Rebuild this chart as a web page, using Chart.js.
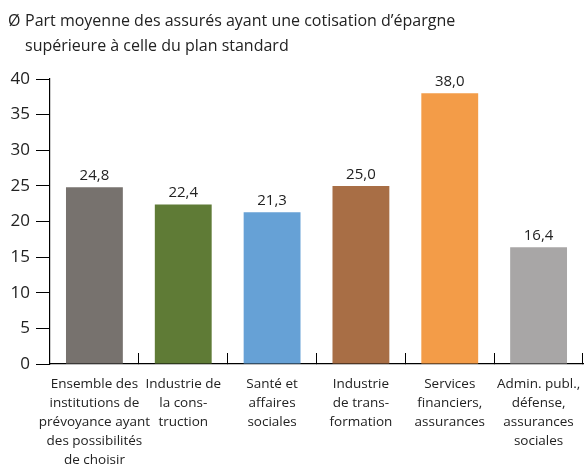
<!DOCTYPE html>
<html>
<head>
<meta charset="utf-8">
<script src="https://cdn.jsdelivr.net/npm/chart.js@4"></script>
<style>
  html, body { margin: 0; padding: 0; background: #fff; }
  #wrap { position: relative; width: 587px; height: 471px; }
  #title {
    position: absolute; left: 8px; top: 8px;
    font-family: "Open Sans", sans-serif; font-size: 16px; line-height: 25px; color: #222;
  }
  #title .sym { display: inline-block; width: 17px; }
  #title .l2 { padding-left: 17px; }
</style>
</head>
<body>
<div id="wrap">
  <div id="title"><span class="sym">Ø</span>Part moyenne des assurés ayant une cotisation d’épargne<br><span class="l2">supérieure à celle du plan standard</span></div>
  <canvas id="myChart" width="587" height="471"></canvas>
</div>
<script>
const categories = [
  ["Ensemble des", "institutions de", "prévoyance ayant", "des possibilités", "de choisir"],
  ["Industrie de", "la cons-", "truction"],
  ["Santé et", "affaires", "sociales"],
  ["Industrie", "de trans-", "formation"],
  ["Services", "financiers,", "assurances"],
  ["Admin. publ.,", "défense,", "assurances", "sociales"]
];
const values = [24.8, 22.4, 21.3, 25.0, 38.0, 16.4];
const barColors = ["#77726e", "#5f7b36", "#66a1d6", "#a86e45", "#f39c48", "#a8a6a6"];
const yTicks = [0, 5, 10, 15, 20, 25, 30, 35, 40];

const fmt = v => v.toFixed(1).replace(".", ",");

const valueLabels = {
  id: "valueLabels",
  afterDatasetsDraw(chart) {
    const ctx = chart.ctx;
    const meta = chart.getDatasetMeta(0);
    ctx.save();
    ctx.font = "15px 'Open Sans', sans-serif";
    ctx.fillStyle = "#222";
    ctx.textAlign = "center";
    ctx.textBaseline = "bottom";
    meta.data.forEach((bar, i) => {
      ctx.fillText(fmt(values[i]), bar.x, bar.y - 4);
    });
    ctx.restore();
  }
};

Chart.defaults.font.family = "'Open Sans', sans-serif";
Chart.defaults.color = "#222";

new Chart(document.getElementById("myChart"), {
  type: "bar",
  data: {
    labels: categories,
    datasets: [{
      data: values,
      backgroundColor: barColors,
      categoryPercentage: 1,
      barPercentage: 0.64
    }]
  },
  options: {
    responsive: false,
    animation: false,
    layout: { padding: { top: 79, right: 4, left: 0, bottom: 0 } },
    plugins: { legend: { display: false }, tooltip: { enabled: false } },
    scales: {
      x: {
        offset: true,
        border: { color: "#000", width: 1.2 },
        grid: { offset: true, drawOnChartArea: false, color: "#000", tickLength: -11, lineWidth: 1 },
        ticks: { font: { size: 13.5, lineHeight: 1.4 }, padding: 22, maxRotation: 0, autoSkip: false, color: "#222" },
        afterFit: s => { s.height = 107; s.paddingLeft = 0; s.paddingRight = 0; }
      },
      y: {
        min: 0,
        max: 40,
        afterBuildTicks: s => { s.ticks = yTicks.map(v => ({ value: v })); },
        border: { color: "#000", width: 1.2 },
        grid: { drawOnChartArea: false, color: "#000", tickLength: 14 },
        ticks: { font: { size: 17 }, padding: 6, color: "#222" },
        afterFit: s => { s.width = 50; s.paddingTop = 0; s.paddingBottom = 0; }
      }
    }
  },
  plugins: [valueLabels]
});
</script>
</body>
</html>
